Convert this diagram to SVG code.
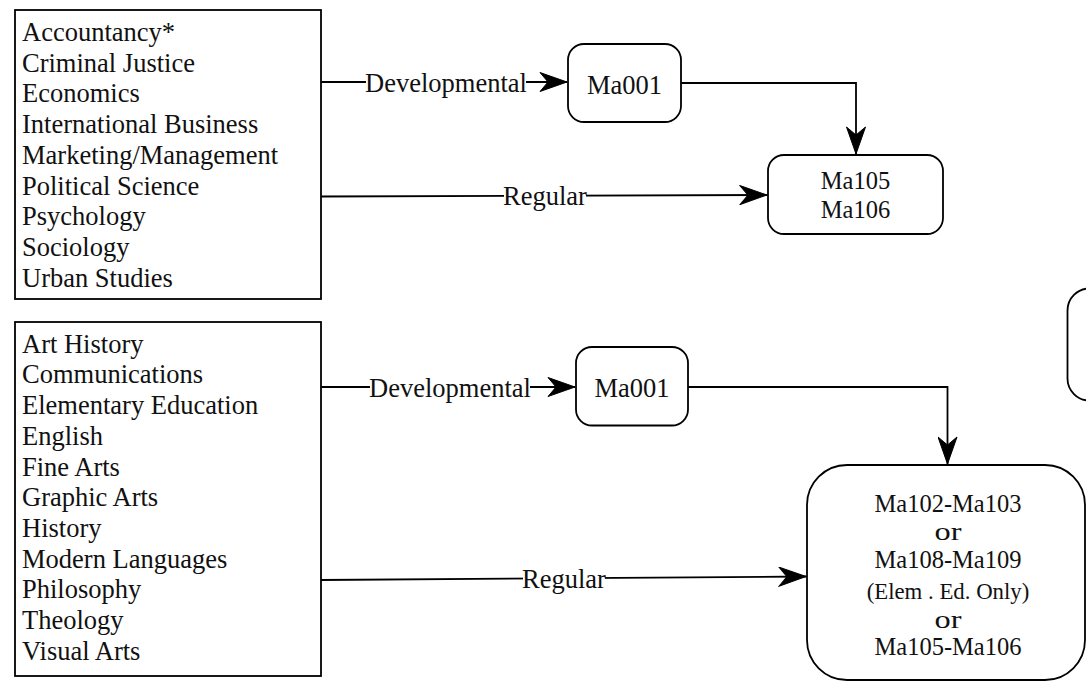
<svg xmlns="http://www.w3.org/2000/svg" width="1086" height="682" viewBox="0 0 1086 682">
<style>
.box{fill:#fff;stroke:#000;stroke-width:1.8}
.t{font-family:"Liberation Serif","Times New Roman",serif;font-size:26.5px;fill:#111}
.c{font-family:"Liberation Serif","Times New Roman",serif;font-size:24.5px;fill:#111;text-anchor:middle}
.s{font-size:22.8px}
.edge{fill:none;stroke:#000;stroke-width:1.8}
.bg{fill:#fff}
</style>
<defs>
<marker id="arr" markerUnits="userSpaceOnUse" viewBox="-28 -10 30 20" refX="0" refY="0" markerWidth="30" markerHeight="20" orient="auto">
<path d="M0,0 L-27,-9.5 L-19,0 L-27,9.5 Z" fill="#000" stroke="#000" stroke-width="1" stroke-linejoin="miter"/>
</marker>
</defs>
<rect width="1086" height="682" fill="#fff"/>

<g id="connectors">
<path class="edge" d="M321,82 L567,82" marker-end="url(#arr)"/>
<path class="edge" d="M681,83 H856 V154" marker-end="url(#arr)"/>
<path class="edge" d="M321,196.5 L767,195" marker-end="url(#arr)"/>
<path class="edge" d="M321,387 L575,387" marker-end="url(#arr)"/>
<path class="edge" d="M688,387 H947.5 V464" marker-end="url(#arr)"/>
<path class="edge" d="M321,580 L806,576.5" marker-end="url(#arr)"/>
<g id="edge-labels">
<rect class="bg" x="366" y="71" width="160" height="22"/>
<text class="t" x="365" y="92">Developmental</text>
<rect class="bg" x="504" y="185" width="82" height="22"/>
<text class="t" x="503" y="205">Regular</text>
<rect class="bg" x="370" y="376" width="160" height="22"/>
<text class="t" x="369" y="397">Developmental</text>
<rect class="bg" x="523" y="568" width="82" height="22"/>
<text class="t" x="522" y="588">Regular</text>
</g>
</g>

<g id="majors1">
<rect class="box" x="15" y="10" width="306" height="289"/>
<text class="t" x="22" y="41">Accountancy*</text>
<text class="t" x="22" y="71.7">Criminal Justice</text>
<text class="t" x="22" y="102.4">Economics</text>
<text class="t" x="22" y="133.1">International Business</text>
<text class="t" x="22" y="163.8">Marketing/Management</text>
<text class="t" x="22" y="194.5">Political Science</text>
<text class="t" x="22" y="225.2">Psychology</text>
<text class="t" x="22" y="255.9">Sociology</text>
<text class="t" x="22" y="286.6">Urban Studies</text>
</g>

<g id="majors2">
<rect class="box" x="15" y="322" width="306" height="354"/>
<text class="t" x="22" y="352.7">Art History</text>
<text class="t" x="22" y="383.4">Communications</text>
<text class="t" x="22" y="414.1">Elementary Education</text>
<text class="t" x="22" y="444.8">English</text>
<text class="t" x="22" y="475.5">Fine Arts</text>
<text class="t" x="22" y="506.2">Graphic Arts</text>
<text class="t" x="22" y="536.9">History</text>
<text class="t" x="22" y="567.6">Modern Languages</text>
<text class="t" x="22" y="598.3">Philosophy</text>
<text class="t" x="22" y="629">Theology</text>
<text class="t" x="22" y="659.7">Visual Arts</text>
</g>

<g id="ma001a">
<rect class="box" x="568" y="44" width="113" height="78" rx="16"/>
<text class="t" x="624.5" y="94" text-anchor="middle">Ma001</text>
</g>

<g id="ma105">
<rect class="box" x="768" y="155" width="175" height="79" rx="16"/>
<text class="c" x="855.5" y="189.3">Ma105</text>
<text class="c" x="855.5" y="217.7">Ma106</text>
</g>

<g id="ma001b">
<rect class="box" x="576" y="347" width="112" height="78.5" rx="16"/>
<text class="t" x="632" y="396.7" text-anchor="middle">Ma001</text>
</g>

<g id="partial">
<rect class="box" x="1067.5" y="288.5" width="60" height="112" rx="22"/>
</g>

<g id="options">
<rect class="box" x="807" y="465" width="278" height="215" rx="40"/>
<text class="c" x="948" y="511.7">Ma102-Ma103</text>
<text class="c" x="948" y="540" textLength="27" lengthAdjust="spacingAndGlyphs">or</text>
<text class="c" x="948" y="568.3">Ma108-Ma109</text>
<text class="c s" x="948" y="599.3">(Elem . Ed. Only)</text>
<text class="c" x="948" y="627.7" textLength="27" lengthAdjust="spacingAndGlyphs">or</text>
<text class="c" x="948" y="655">Ma105-Ma106</text>
</g>
</svg>
